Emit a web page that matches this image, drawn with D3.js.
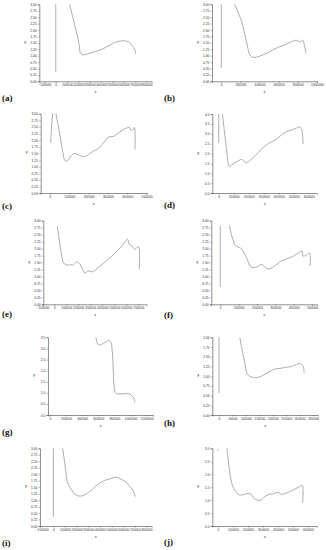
<!DOCTYPE html>
<html><head><meta charset="utf-8">
<script src="https://cdn.jsdelivr.net/npm/d3@7"></script>
<style>
html,body{margin:0;padding:0;background:#fff;}
svg{display:block;}
</style>
</head><body>
<svg id="chart" width="326" height="550"></svg>
<script>
// ---------- DATA ----------
const panelIds = ["a","b","c","d","e","f","g","h","i","j"];
const panelNames = ["(a)","(b)","(c)","(d)","(e)","(f)","(g)","(h)","(i)","(j)"];

// (a)
const aX = [122000,150000,180000,205000,216000,230000,245000,280000,330000,391000,440000,479000,510000,538000,570000,596000,620000,640000,655000,669000,685000,698000,704000];
const aY = [3.0,2.5,1.95,1.45,1.12,1.05,1.03,1.07,1.14,1.22,1.32,1.41,1.49,1.54,1.57,1.58,1.57,1.54,1.49,1.41,1.32,1.22,1.06];
const aVY = [0.37,3.0];
const aXTicks = [-100000,0,100000,200000,300000,400000,500000,600000,700000,800000];
const aYTicks = [0,0.25,0.5,0.75,1,1.25,1.5,1.75,2,2.25,2.5,2.75,3];
// (b)
const bX = [139000,208000,260000,302000,337000,400000,504000,590000,660000,729000,781000,823000,851000,868000,885000];
const bY = [3.0,2.38,1.6,1.02,0.93,0.98,1.15,1.32,1.41,1.54,1.6,1.54,1.6,1.41,1.09];
const bVY = [0.52,3.0];
const bXTicks = [0,200000,400000,600000,800000,1000000];
const bYTicks = [0,0.25,0.5,0.75,1,1.25,1.5,1.75,2,2.25,2.5,2.75,3];
// (c)
const cX = [3500,10400,13800,20000,25000,31000,48000,66000,78000,92000,107000,124000,147000,173000,199000,224000,250000,276000,302000,328000,354000,380000,397000,411000,420000,432000,437000,440000];
const cY = [1.89,2.71,2.99,3.4,3.4,3.0,2.33,1.58,1.22,1.22,1.39,1.49,1.45,1.37,1.45,1.58,1.68,1.89,2.11,2.14,2.27,2.4,2.46,2.48,2.36,2.43,2.48,1.64];
const cXTicks = [0,100000,200000,300000,400000,500000];
const cYTicks = [0,0.25,0.5,0.75,1,1.25,1.5,1.75,2,2.25,2.5,2.75,3];
// (d)
const dX = [24000,40000,56000,69000,84000,107000,129000,151000,167000,180000,196000,229000,262000,296000,340000,384000,418000,451000,484000,500000,518000,540000,553000,562000];
const dY = [4.03,2.98,1.96,1.36,1.41,1.53,1.62,1.7,1.62,1.53,1.57,1.79,2.04,2.3,2.55,2.72,2.94,3.11,3.18,3.23,3.29,3.35,3.22,2.47];
const dVY = [2.55,4.0];
const dXTicks = [0,100000,200000,300000,400000,500000,600000];
const dYTicks = [0,0.5,1,1.5,2,2.5,3,3.5,4];
// (e)
const eX = [25000,42000,61000,75000,97000,117000,136000,153000,172000,192000,214000,236000,256000,275000,297000,314000,381000,464000,547000,611000,625000,644000,658000,672000,686000,703000,708000];
const eY = [2.81,2.27,1.76,1.49,1.43,1.4,1.43,1.4,1.47,1.52,1.43,1.25,1.11,1.19,1.19,1.16,1.37,1.67,2.01,2.33,2.15,2.11,2.03,1.97,2.03,2.06,1.25];
const eXTicks = [-100000,0,100000,200000,300000,400000,500000,600000,700000];
const eYTicks = [0,0.25,0.5,0.75,1,1.25,1.5,1.75,2,2.25,2.5,2.75,3];
// (f)
const fX = [51000,60000,69000,78000,91000,109000,124000,138000,151000,164000,182000,200000,224000,238000,255000,273000,296000,324000,351000,378000,406000,433000,447000,451000,469000,487000,489000];
const fY = [2.81,2.51,2.33,2.15,2.07,2.02,1.91,1.73,1.55,1.37,1.31,1.34,1.43,1.37,1.28,1.28,1.37,1.52,1.61,1.67,1.76,1.88,1.91,1.73,1.76,1.83,1.37];
const fVY = [0.62,2.8];
const fXTicks = [0,100000,200000,300000,400000,500000];
const fYTicks = [0,0.25,0.5,0.75,1,1.25,1.5,1.75,2,2.25,2.5,2.75,3];
// (g)
const gX = [571000,588000,613000,642000,683000,725000,754000,774000,787000,799000,820000,870000,932000,986000,1015000,1043000,1056000];
const gY = [3.5,3.23,3.15,3.18,3.27,3.35,3.3,2.85,1.95,1.2,0.98,0.95,0.96,0.95,0.87,0.75,0.57];
const gXTicks = [0,200000,400000,600000,800000,1000000,1200000];
const gYTicks = [0,0.5,1,1.5,2,2.5,3,3.5];
// (h)
const hX = [77000,86000,96000,104000,114000,127000,139000,154000,170000,189000,207000,226000,244000,263000,278000,288000,300000,307000,313000,316000];
const hY = [2.0,1.67,1.33,1.07,1.0,0.97,0.96,0.99,1.05,1.12,1.18,1.2,1.22,1.24,1.27,1.3,1.33,1.3,1.26,1.09];
const hVY = [0.56,2.0];
const hXTicks = [0,50000,100000,150000,200000,250000,300000,350000];
const hYTicks = [0,0.25,0.5,0.75,1,1.25,1.5,1.75,2];
// (i)
const iX = [80000,100000,120000,134000,157000,186000,214000,251000,286000,320000,357000,394000,429000,457000,500000,537000,566000,594000,623000,651000,674000,691000,703000];
const iY = [3.0,2.36,1.71,1.56,1.39,1.22,1.16,1.17,1.25,1.36,1.52,1.65,1.74,1.79,1.84,1.89,1.84,1.78,1.69,1.56,1.43,1.3,1.13];
const iVY = [0.36,3.0];
const iXTicks = [-100000,0,100000,200000,300000,400000,500000,600000,700000,800000];
const iYTicks = [0,0.25,0.5,0.75,1,1.25,1.5,1.75,2,2.25,2.5,2.75,3];
// (j)
const jX = [60000,69000,78000,89000,104000,122000,144000,178000,200000,222000,238000,251000,282000,311000,340000,367000,400000,422000,444000,478000,511000,544000,562000,564000];
const jY = [3.0,2.48,2.1,1.71,1.45,1.3,1.2,1.22,1.26,1.22,1.07,1.02,0.99,1.13,1.22,1.24,1.3,1.22,1.25,1.33,1.42,1.52,1.56,0.88];
const jVY = [2.9,2.98];
const jXTicks = [0,100000,200000,300000,400000,500000,600000];
const jYTicks = [0,0.5,1,1.5,2,2.5,3];

const seriesX = {a:aX,b:bX,c:cX,d:dX,e:eX,f:fX,g:gX,h:hX,i:iX,j:jX};
const seriesY = {a:aY,b:bY,c:cY,d:dY,e:eY,f:fY,g:gY,h:hY,i:iY,j:jY};
const vLines = {a:aVY,b:bVY,d:dVY,f:fVY,h:hVY,i:iVY,j:jVY};
const xTicks = {a:aXTicks,b:bXTicks,c:cXTicks,d:dXTicks,e:eXTicks,f:fXTicks,g:gXTicks,h:hXTicks,i:iXTicks,j:jXTicks};
const yTicks = {a:aYTicks,b:bYTicks,c:cYTicks,d:dYTicks,e:eYTicks,f:fYTicks,g:gYTicks,h:hYTicks,i:iYTicks,j:jYTicks};

// ---------- LAYOUT ----------
const layout = {
  a:{l:39.3,r:151.7,t:4.3,b:81.3, xd:[-145000,845000], yd:[0,3], lx:2, ly:100.5},
  b:{l:212,r:317,t:4.3,b:81.3, xd:[-97000,1000000], yd:[0,3], lx:164, ly:100.5},
  c:{l:40.7,r:147,t:113.7,b:193, xd:[-48000,502000], yd:[0,3], lx:2, ly:209},
  d:{l:212.3,r:317,t:114,b:193, xd:[-43000,655000], yd:[0,4], lx:164, ly:208},
  e:{l:43.3,r:146.7,t:220.7,b:304.3, xd:[-92000,770000], yd:[0,3], lx:2, ly:317},
  f:{l:211.3,r:317,t:220.7,b:304.3, xd:[-49000,527000], yd:[0,3], lx:164, ly:318},
  g:{l:48,r:153,t:337.3,b:415, xd:[-25000,1280000], yd:[0,3.5], lx:2, ly:435},
  h:{l:212.3,r:318,t:337.3,b:415, xd:[-25000,368000], yd:[0,2], lx:164, ly:425.5},
  i:{l:40,r:151.7,t:448.3,b:526, xd:[-114000,843000], yd:[0,3], lx:2, ly:545.5},
  j:{l:212.3,r:317,t:448.3,b:526, xd:[-38000,660000], yd:[0,3], lx:164, ly:545}
};

const svg = d3.select("#chart");
const defs = svg.append("defs");

panelIds.forEach((id, k) => {
  const L = layout[id];
  const x = d3.scaleLinear().domain(L.xd).range([L.l, L.r]);
  const y = d3.scaleLinear().domain(L.yd).range([L.b, L.t]);
  const g = svg.append("g").attr("class","panel-"+id);

  defs.append("clipPath").attr("id","clip-"+id)
    .append("rect").attr("x",L.l).attr("y",L.t-0.5).attr("width",L.r-L.l).attr("height",L.b-L.t+0.5);

  const step = yTicks[id][1]-yTicks[id][0];
  const yFmt = step === 0.25 ? d3.format(".2f") : d3.format(".1f");

  const xa = g.append("g").attr("transform",`translate(0,${L.b})`)
    .call(d3.axisBottom(x).tickValues(xTicks[id]).tickFormat(d3.format("d")).tickSize(1.5).tickPadding(1.2));
  const ya = g.append("g").attr("transform",`translate(${L.l},0)`)
    .call(d3.axisLeft(y).tickValues(yTicks[id]).tickFormat(yFmt).tickSize(1.5).tickPadding(1.2));
  [xa,ya].forEach(a=>{
    a.selectAll("path.domain").attr("stroke","#444").attr("stroke-width",0.6);
    a.selectAll(".tick line").attr("stroke","#444").attr("stroke-width",0.4);
    a.selectAll("text").attr("font-size","3.3px").attr("font-family","Liberation Sans, Arial, sans-serif").attr("fill","#333");
  });

  g.append("text").attr("x",(L.l+L.r)/2).attr("y",L.b+11.5).attr("text-anchor","middle")
    .attr("font-size","4px").attr("font-family","Liberation Sans, Arial, sans-serif").attr("fill","#333").text("x");
  g.append("text").attr("x",L.l-14).attr("y",(L.t+L.b)/2).attr("text-anchor","middle")
    .attr("font-size","4px").attr("font-family","Liberation Sans, Arial, sans-serif").attr("fill","#333").text("y");

  const plot = g.append("g").attr("clip-path",`url(#clip-${id})`);
  if (vLines[id]) {
    plot.append("line").attr("x1",x(0)).attr("x2",x(0))
      .attr("y1",y(vLines[id][0])).attr("y2",y(vLines[id][1]))
      .attr("stroke","#8a8a8a").attr("stroke-width",0.7);
  }
  const pts = seriesX[id].map((v,n)=>[v, seriesY[id][n]]);
  const line = d3.line().x(d=>x(d[0])).y(d=>y(d[1])).curve(d3.curveCatmullRom.alpha(0.5));
  plot.append("path").datum(pts).attr("d",line)
    .attr("fill","none").attr("stroke","#8a8a8a").attr("stroke-width",0.7);

  svg.append("text").attr("x",L.lx).attr("y",L.ly)
    .attr("font-family","Liberation Serif, Times New Roman, serif").attr("font-weight","bold")
    .attr("font-size","9px").attr("fill","#111").text(panelNames[k]);
});
</script>
</body></html>
